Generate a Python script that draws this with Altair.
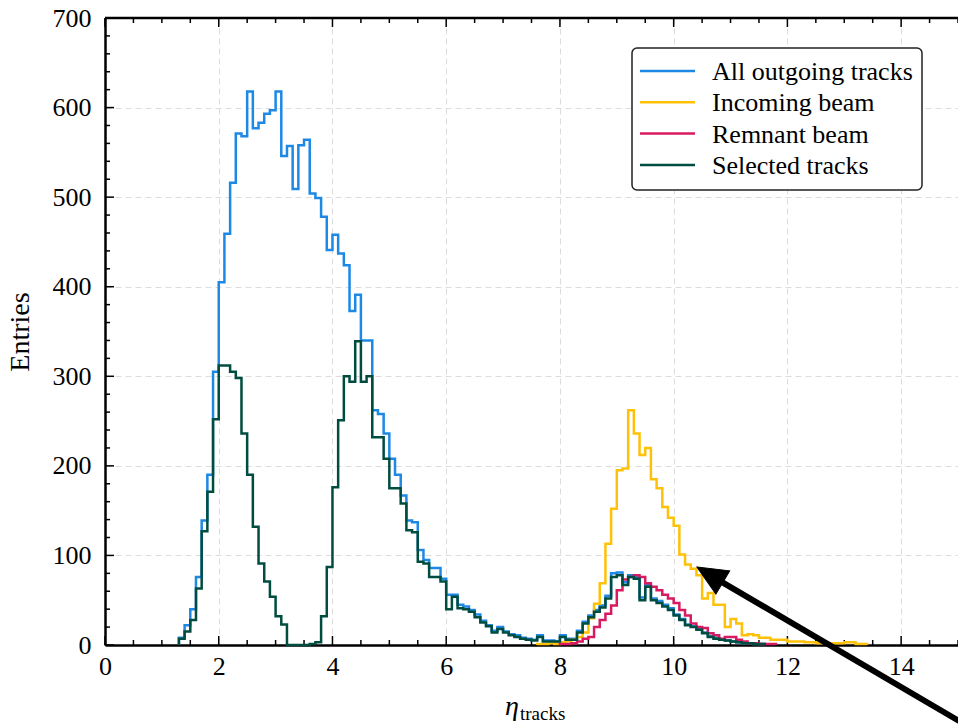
import altair as alt
import pandas as pd

# Pseudorapidity histograms, 0.1-wide bins; each series starts at its first bin edge
BIN_WIDTH = 0.1
SERIES = ["All outgoing tracks", "Incoming beam", "Remnant beam", "Selected tracks"]
COLORS = ["#1E88E5", "#FFC107", "#D81B60", "#004D40"]

all_start = 1.3
all_counts = [8, 22, 40, 76, 139, 190, 305, 405, 459, 516, 571, 568, 618, 577, 583, 593,
              597, 618, 546, 557, 509, 558, 564, 504, 499, 478, 441, 458, 437, 424, 373,
              391, 340, 340, 262, 258, 236, 208, 190, 167, 139, 137, 106, 95, 86, 86, 74,
              56, 56, 45, 43, 39, 34, 27, 22, 16, 20, 15, 12, 11, 8, 7, 6, 11, 5, 5, 4,
              11, 7, 7, 16, 26, 33, 39, 44, 55, 80, 81, 70, 78, 76, 53, 67, 52, 49, 45,
              41, 34, 29, 23, 21, 18, 14, 10, 8, 6, 5, 4, 3, 2, 2, 1, 1]

incoming_start = 7.6
incoming_counts = [1, 1, 2, 1, 3, 4, 6, 9, 14, 30, 46, 69, 113, 152, 195, 197, 262, 236,
                   212, 220, 185, 175, 154, 142, 133, 101, 90, 85, 78, 52, 58, 45, 45, 20,
                   29, 24, 11, 12, 11, 8, 8, 6, 6, 6, 4, 4, 4, 3, 3, 2, 2, 2, 2, 2, 3, 3,
                   1, 1]

remnant_start = 8.0
remnant_counts = [1, 1, 2, 4, 7, 9, 20, 28, 35, 44, 61, 73, 76, 78, 76, 69, 65, 61, 56,
                  52, 47, 39, 33, 24, 20, 19, 13, 11, 7, 9, 9, 6, 4, 2, 2, 1, 1, 1]

selected_start = 1.3
selected_counts = [7, 15, 28, 63, 127, 171, 252, 312, 312, 305, 298, 236, 190, 132, 91,
                   71, 54, 32, 23, 0, 0, 0, 0, 1, 3, 32, 87, 176, 251, 300, 294, 339, 294,
                   300, 232, 232, 208, 175, 175, 158, 128, 126, 93, 91, 76, 76, 71, 40, 54,
                   41, 40, 37, 31, 25, 21, 14, 18, 14, 11, 9, 7, 6, 5, 9, 4, 4, 4, 9, 6, 6,
                   14, 24, 31, 37, 42, 52, 76, 78, 67, 76, 74, 50, 65, 50, 47, 43, 39, 33,
                   28, 22, 20, 17, 13, 9, 7, 6, 5, 4, 3, 2, 2, 1, 1]

x_major = [0, 2, 4, 6, 8, 10, 12, 14]
x_minor = [v / 2 for v in range(0, 31) if v % 4 != 0]
y_major = list(range(0, 701, 100))
y_minor = [v for v in range(0, 701, 20) if v % 100 != 0]

# Arrow annotation (data coordinates): tail, end of shaft, tip
ARROW_TAIL = (15.05, -86)
ARROW_SHAFT_END = (10.64, 78)
ARROW_TIP = (10.41, 87)

FONT = "Liberation Serif"
W, H = 853, 627
LINE_W = 2.5

XS = alt.Scale(domain=[0, 15], nice=False, zero=False)
YS = alt.Scale(domain=[0, 700], nice=False, zero=False)
X_AXIS = alt.Axis(values=x_major, format="d", title=None, ticks=False, grid=True,
                  gridDash=[6, 4], gridColor="#dcdcdc", gridWidth=1,
                  domainColor="black", domainWidth=2.5, labelFlush=False,
                  labelFont=FONT, labelFontSize=26, labelColor="black", labelPadding=8)
Y_AXIS = alt.Axis(values=y_major, format="d", title="Entries", ticks=False, grid=True,
                  gridDash=[6, 4], gridColor="#dcdcdc", gridWidth=1,
                  domainColor="black", domainWidth=2.5,
                  labelFont=FONT, labelFontSize=26, labelColor="black", labelPadding=14,
                  titleFont=FONT, titleFontSize=28, titleFontWeight="normal",
                  titleColor="black", titlePadding=18)


def X(field):
    return alt.X(field, type="quantitative", scale=XS, axis=X_AXIS)


def Y(field):
    return alt.Y(field, type="quantitative", scale=YS, axis=Y_AXIS)


def step_frame(start, counts):
    rows = [(start, 0)]
    for i, c in enumerate(counts):
        rows.append((round(start + i * BIN_WIDTH, 2), c))
    rows.append((round(start + len(counts) * BIN_WIDTH, 2), 0))
    return pd.DataFrame({"eta": [r[0] for r in rows], "n": [r[1] for r in rows],
                         "k": list(range(len(rows)))})


hist_layers = []
for (start, counts), color in zip(
        [(all_start, all_counts), (incoming_start, incoming_counts),
         (remnant_start, remnant_counts), (selected_start, selected_counts)], COLORS):
    hist_layers.append(
        alt.Chart(step_frame(start, counts))
        .mark_line(interpolate="step-after", strokeWidth=LINE_W, color=color)
        .encode(x=X("eta"), y=Y("n"), order=alt.Order("k:Q"))
    )

# Inward ticks on the bottom, top and left of the frame
tick_layers = []
for vals, length in [(x_major, 9), (x_minor, 5)]:
    df = pd.DataFrame({"v": vals})
    tick_layers.append(alt.Chart(df).mark_rule(color="black", strokeWidth=1.5).encode(
        x=X("v"), y=alt.value(H), y2=alt.value(H - length)))
    tick_layers.append(alt.Chart(df).mark_rule(color="black", strokeWidth=1.5).encode(
        x=X("v"), y=alt.value(0), y2=alt.value(length)))
for vals, length in [(y_major, 9), (y_minor, 5)]:
    df = pd.DataFrame({"v": vals})
    tick_layers.append(alt.Chart(df).mark_rule(color="black", strokeWidth=1.5).encode(
        y=Y("v"), x=alt.value(0), x2=alt.value(length)))

one = pd.DataFrame({"a": [0]})
top_border = alt.Chart(one).mark_rule(color="black", strokeWidth=2.5).encode(
    x=alt.value(0), x2=alt.value(W), y=alt.value(0))

# Legend box with line samples
legend_layers = [
    alt.Chart(one).mark_rect(fill="white", stroke="#222222", strokeWidth=1.5,
                             cornerRadius=5).encode(
        x=alt.value(527), x2=alt.value(817), y=alt.value(30), y2=alt.value(172))
]
for i, (name, color) in enumerate(zip(SERIES, COLORS)):
    ypix = 53 + 31.3 * i
    legend_layers.append(alt.Chart(one).mark_rule(color=color, strokeWidth=LINE_W).encode(
        x=alt.value(535), x2=alt.value(590), y=alt.value(ypix)))
    legend_layers.append(
        alt.Chart(pd.DataFrame({"label": [name]}))
        .mark_text(font=FONT, fontSize=26, align="left", baseline="middle", color="black")
        .encode(x=alt.value(607), y=alt.value(ypix + 1), text="label:N"))

# x-axis title: eta with a "tracks" subscript
x_title = [
    alt.Chart(pd.DataFrame({"t": ["η"]})).mark_text(
        font=FONT, fontSize=28, fontStyle="italic", align="right", baseline="alphabetic",
        color="black").encode(x=alt.value(414), y=alt.value(697), text="t:N"),
    alt.Chart(pd.DataFrame({"t": ["tracks"]})).mark_text(
        font=FONT, fontSize=19, align="left", baseline="alphabetic",
        color="black").encode(x=alt.value(415), y=alt.value(702), text="t:N"),
]

arrow_df = pd.DataFrame({"x": [ARROW_TAIL[0]], "y": [ARROW_TAIL[1]],
                         "x2": [ARROW_SHAFT_END[0]], "y2": [ARROW_SHAFT_END[1]]})
arrow_shaft = alt.Chart(arrow_df).mark_rule(color="black", strokeWidth=6, clip=False).encode(
    x=X("x"), y=Y("y"), x2="x2:Q", y2="y2:Q")
arrow_head = alt.Chart(pd.DataFrame({"x": [ARROW_TIP[0]], "y": [ARROW_TIP[1]]})).mark_point(
    shape="M0,-1L0.9,1L-0.9,1Z", size=900, angle=300.7, filled=True, fill="black",
    stroke="black", strokeWidth=1, opacity=1, xOffset=12.9, yOffset=7.7, clip=False
).encode(x=X("x"), y=Y("y"))

chart = alt.layer(
    *tick_layers, *hist_layers, top_border, *legend_layers, *x_title, arrow_shaft, arrow_head
).properties(
    width=W, height=H,
    autosize=alt.AutoSizeParams(type="none"),
    padding={"left": 105, "top": 18, "right": 0, "bottom": 80},
    background="white",
).configure_view(strokeWidth=0)

chart.save("out.html", embed_options={"renderer": "svg", "actions": False})
